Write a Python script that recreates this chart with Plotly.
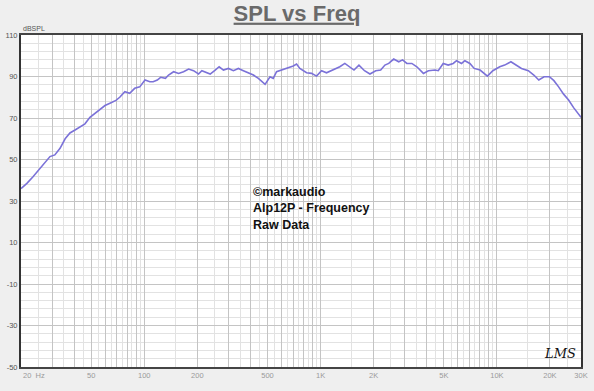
import math
import plotly.graph_objects as go

# ---- data ----
freq_hz = [20, 21.6, 23.4, 24.9, 26.8, 28.0, 29.2, 31.1, 33.3, 35.6, 37.9, 40.5, 43.2, 46.1, 49.2,
           54.6, 59.9, 63.9, 69.1, 72.6, 77.6, 82.7, 88.3, 94.3, 101, 107.6, 112.3, 118.6, 123.9,
           131.9, 137.4, 146.7, 156.6, 167.1, 178.4, 190.4, 203.2, 212.2, 221.7, 236.6, 252.6,
           266, 281.3, 300.2, 320.4, 342, 365, 389.6, 415.9, 443.9, 484.5, 517, 539, 563, 601,
           641, 700, 731, 763, 833, 889, 949, 1013, 1081, 1177, 1286, 1373, 1465, 1547, 1651,
           1775, 1906, 2055, 2193, 2318, 2436, 2600, 2775, 2920, 3086, 3294, 3516, 3831, 4089,
           4456, 4650, 4962, 5297, 5654, 5904, 6302, 6585, 7028, 7434, 8030, 8840, 9487, 10380,
           11070, 12010, 12840, 13790, 15080, 16200, 17290, 18520, 19870, 21060, 22400, 23900,
           25520, 27240, 30000]
spl_db = [36.0, 38.5, 41.7, 44.5, 47.3, 49.6, 51.4, 52.2, 55.4, 60.0, 62.8, 64.2, 65.5, 67.2, 70.3,
          73.5, 76.0, 77.1, 78.5, 80.0, 82.7, 81.9, 84.3, 85.0, 88.3, 87.5, 87.5, 88.3, 89.6,
          89.1, 90.7, 92.3, 91.5, 92.3, 93.6, 92.8, 91.2, 92.8, 92.3, 91.2, 93.1,
          94.7, 93.1, 93.9, 92.8, 93.9, 92.8, 91.8, 90.7, 89.1, 86.2, 89.9, 89.1, 92.3, 93.1,
          93.9, 95.1, 96.0, 93.9, 91.8, 91.5, 90.2, 92.8, 91.8, 93.1, 94.7, 96.3, 94.7, 93.1, 95.5,
          92.8, 91.2, 92.8, 93.1, 95.5, 96.3, 98.4, 97.1, 98.0, 96.3, 96.3, 94.7, 91.5, 92.8,
          93.1, 92.8, 96.3, 95.5, 96.3, 97.6, 96.3, 97.6, 96.3, 93.9, 93.1, 90.2, 92.8, 94.7,
          95.5, 97.1, 95.5, 93.9, 92.8, 90.7, 88.3, 89.9, 89.9, 88.0, 85.0, 81.5,
          78.7, 75.0, 70.3]

x_major = [20, 30, 40, 50, 60, 70, 80, 90, 100, 200, 300, 400, 500, 600, 700, 800, 900,
           1000, 2000, 3000, 4000, 5000, 6000, 7000, 8000, 9000, 10000, 20000, 30000]
x_labels = {50: "50", 100: "100", 200: "200", 500: "500", 1000: "1K", 2000: "2K",
            5000: "5K", 10000: "10K", 20000: "20K", 30000: "30K"}
x_minor = [25, 35, 45, 55, 65, 75, 85, 95, 150, 250, 350, 450, 550, 650, 750, 850, 950,
           1500, 2500, 3500, 4500, 5500, 6500, 7500, 8500, 9500, 15000, 25000]
y_ticks = [110, 90, 70, 50, 30, 10, -10, -30, -50]

title_text = "SPL vs Freq"
note_lines = ["©markaudio", "Alp12P - Frequency", "Raw Data"]

W, H = 594, 391
L, R, T, B = 21, 13, 35, 24
BG = "#efefef"

fig = go.Figure()
fig.add_trace(go.Scatter(x=freq_hz, y=spl_db, mode="lines",
                         line=dict(color="#7b72d8", width=1.6), hoverinfo="skip",
                         showlegend=False))

tick_font = dict(family="Liberation Sans, Arial, sans-serif", size=7.5, color="#9a9a9a")

fig.update_layout(
    width=W, height=H,
    margin=dict(l=L, r=R, t=T, b=B, autoexpand=False),
    paper_bgcolor=BG, plot_bgcolor="#ffffff",
    title=dict(text="<u>" + title_text + "</u>", x=0.5, xanchor="center",
               y=1 - 13 / H, yanchor="middle", yref="container",
               font=dict(family="Liberation Sans, Arial, sans-serif", size=22,
                         color="#6a6a6a", weight="bold")),
    xaxis=dict(type="log", range=[math.log10(20), math.log10(30000)],
               tickmode="array", tickvals=x_major,
               ticktext=[x_labels.get(v, "") for v in x_major],
               showgrid=True, gridcolor="#c4c4c4", gridwidth=1,
               minor=dict(tickmode="array", tickvals=x_minor, showgrid=True,
                          gridcolor="#e2e2e2", gridwidth=1, ticks=""),
               ticks="", tickfont=tick_font, tickangle=0, automargin=False,
               showline=True, linecolor="#444444", linewidth=2, mirror=True,
               zeroline=False, fixedrange=True),
    yaxis=dict(range=[-50, 110], tickmode="array", tickvals=y_ticks,
               ticktext=[str(v) for v in y_ticks],
               showgrid=True, gridcolor="#c4c4c4", gridwidth=1,
               minor=dict(tick0=-50, dtick=4, showgrid=True, gridcolor="#e2e2e2",
                          gridwidth=1, ticks=""),
               ticks="", automargin=False,
               tickfont=dict(family="Liberation Sans, Arial, sans-serif",
                             size=7.5, color="#555555"),
               showline=True, linecolor="#333333", linewidth=2, mirror=True,
               zeroline=False, fixedrange=True),
)

# "20 Hz" label (left-aligned at the axis start)
fig.add_annotation(x=math.log10(20), xref="x", xanchor="left", y=0, yref="paper",
                   yanchor="top", yshift=-2, text="20  Hz", showarrow=False,
                   font=tick_font)

# y axis unit label
fig.add_annotation(x=0, xref="paper", xanchor="left", y=1, yref="paper",
                   yanchor="bottom", yshift=1, xshift=0, text="dBSPL", showarrow=False,
                   font=dict(family="Liberation Sans, Arial, sans-serif", size=7,
                             color="#555555"))

# note text
fig.add_annotation(x=(251 - L) / (W - L - R), xref="paper", xanchor="left",
                   y=(H - B - 183) / (H - T - B), yref="paper", yanchor="top",
                   text="<br>".join(note_lines), showarrow=False, align="left",
                   font=dict(family="Liberation Sans, Arial, sans-serif", size=12.5,
                             color="#111111", weight="bold"))

# LMS mark
fig.add_annotation(x=(560 - L) / (W - L - R), xref="paper", xanchor="center",
                   y=(H - B - 353) / (H - T - B), yref="paper", yanchor="middle",
                   text="<i>LMS</i>", showarrow=False,
                   font=dict(family="DejaVu Serif, serif", size=13, color="#111111"))

fig.write_html("out.html", config={"displayModeBar": False},
               post_script="document.body.style.margin='0';"
                           "document.body.style.overflow='hidden';"
                           "document.body.style.background='" + BG + "';")
